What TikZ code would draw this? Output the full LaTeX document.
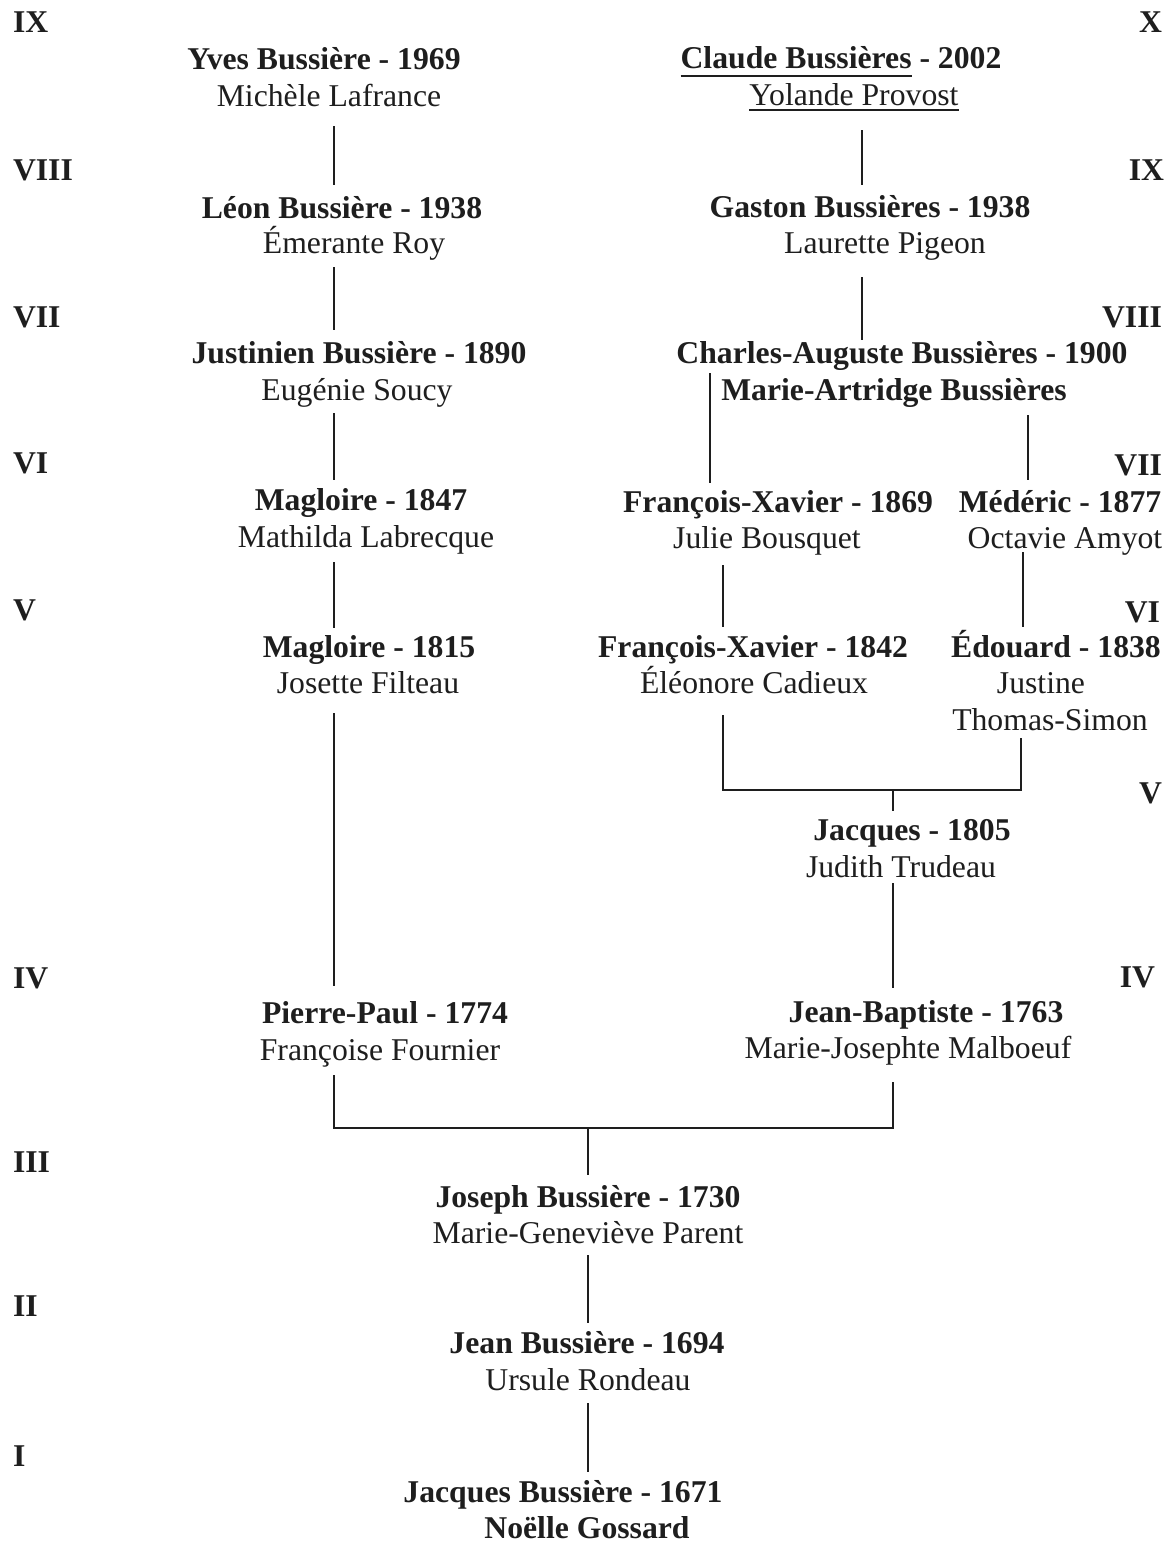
\documentclass[tikz,border=0pt]{standalone}
\usepackage{fontspec}
\setmainfont{Liberation Serif}
\usetikzlibrary{calc}
\definecolor{ink}{HTML}{1E1E1E}
% underline drawn at a chosen depth below the baseline
\newcommand{\ulinetext}[2]{\setbox0=\hbox{#2}\rlap{\rule[-#1]{\wd0}{1.8pt}}\box0\relax}
\begin{document}
\begin{tikzpicture}[x=1pt,y=-1pt,
  txt/.style={inner sep=0pt, outer sep=0pt, text height=22pt, text depth=8pt,
              anchor=base, text=ink, font=\fontsize{31.7pt}{37pt}\selectfont},
  nm/.style={txt, font=\fontsize{31.7pt}{37pt}\selectfont\bfseries},
  sp/.style={txt},
  genL/.style={nm, anchor=base west},
  genR/.style={nm, anchor=base east},
  link/.style={draw=ink, line width=1.8pt}]
\fill[white] (0,0) rectangle (1172,1543);
\useasboundingbox (0,0) rectangle (1172,1543);

% generation numbers, left margin
\node[genL] (gL9) at (13,32) {IX};
\node[genL] (gL8) at (13,180) {VIII};
\node[genL] (gL7) at (13,327) {VII};
\node[genL] (gL6) at (13,473) {VI};
\node[genL] (gL5) at (13,620) {V};
\node[genL] (gL4) at (13,988) {IV};
\node[genL] (gL3) at (13,1172) {III};
\node[genL] (gL2) at (13,1316) {II};
\node[genL] (gL1) at (13,1466) {I};

% generation numbers, right margin
\node[genR] (gR10) at (1162,32) {X};
\node[genR] (gR9) at (1164,180) {IX};
\node[genR] (gR8) at (1162,327) {VIII};
\node[genR] (gR7) at (1162,475) {VII};
\node[genR] (gR6) at (1160,622) {VI};
\node[genR] (gR5) at (1162,803) {V};
\node[genR] (gR4) at (1155,987) {IV};

% left branch
\node[nm] (yves) at (324,69) {Yves Bussière - 1969};
\node[sp] (yvesS) at (329,106) {Michèle Lafrance};
\node[nm] (leon) at (342,218) {Léon Bussière - 1938};
\node[sp] (leonS) at (354,253) {Émerante Roy};
\node[nm] (justinien) at (359,363) {Justinien Bussière - 1890};
\node[sp] (justinienS) at (357,400) {Eugénie Soucy};
\node[nm] (magA) at (361,510) {Magloire - 1847};
\node[sp] (magAS) at (366,547) {Mathilda Labrecque};
\node[nm] (magB) at (369,657) {Magloire - 1815};
\node[sp] (magBS) at (368,693) {Josette Filteau};
\node[nm] (pierre) at (385,1023) {Pierre-Paul - 1774};
\node[sp] (pierreS) at (380,1060) {Françoise Fournier};

% right branch
\node[nm] (claude) at (841,68) {\ulinetext{9pt}{Claude Bussières} - 2002};
\node[sp] (claudeS) at (854,105) {\ulinetext{6pt}{Yolande Provost}};
\node[nm] (gaston) at (870,217) {Gaston Bussières - 1938};
\node[sp] (gastonS) at (885,253) {Laurette Pigeon};
\node[nm] (charles) at (902,363) {Charles-Auguste Bussières - 1900};
\node[nm] (charlesS) at (894,400) {Marie-Artridge Bussières};
\node[nm] (fxA) at (778,512) {François-Xavier - 1869};
\node[sp] (fxAS) at (767,548) {Julie Bousquet};
\node[nm] (mederic) at (1060,512) {Médéric - 1877};
\node[sp] (medericS) at (1065,548) {Octavie Amyot};
\node[nm] (fxB) at (753,657) {François-Xavier - 1842};
\node[sp] (fxBS) at (754,693) {Éléonore Cadieux};
\node[nm] (edouard) at (1056,657) {Édouard - 1838};
\node[sp] (edouardS) at (1041,693) {Justine};
\node[sp] (edouardS2) at (1050,730) {Thomas-Simon};
\node[nm] (jacquesB) at (912,840) {Jacques - 1805};
\node[sp] (jacquesBS) at (901,877) {Judith Trudeau};
\node[nm] (jb) at (926,1022) {Jean-Baptiste - 1763};
\node[sp] (jbS) at (908,1058) {Marie-Josephte Malboeuf};

% common trunk
\node[nm] (joseph) at (588,1207) {Joseph Bussière - 1730};
\node[sp] (josephS) at (588,1243) {Marie-Geneviève Parent};
\node[nm] (jean) at (587,1353) {Jean Bussière - 1694};
\node[sp] (jeanS) at (588,1390) {Ursule Rondeau};
\node[nm] (jacquesA) at (563,1502) {Jacques Bussière - 1671};
\node[nm] (jacquesAS) at (587,1538) {Noëlle Gossard};

% connector columns and junctions
\coordinate (colA) at (334,0);
\coordinate (colC) at (862,0);
\coordinate (colCL) at (710,0);
\coordinate (colCR) at (1028,0);
\coordinate (colFX) at (723,0);
\coordinate (colM) at (1023,0);
\coordinate (colE) at (1021,0);
\coordinate (colJ) at (893,0);
\coordinate (jA) at (893,790);
\coordinate (jB) at (588,1128);

% left branch links
\draw[link, shorten <=12pt, shorten >=11pt] (yvesS.south -| colA) -- (leon.north -| colA);
\draw[link, shorten <=6pt, shorten >=11pt] (leonS.south -| colA) -- (justinien.north -| colA);
\draw[link, shorten <=5pt, shorten >=8pt] (justinienS.south -| colA) -- (magA.north -| colA);
\draw[link, shorten <=7pt, shorten >=7pt] (magAS.south -| colA) -- (magB.north -| colA);
\draw[link, shorten <=12pt, shorten >=15pt] (magBS.south -| colA) -- (pierre.north -| colA);

% right branch links
\draw[link, shorten <=17pt, shorten >=10pt] (claudeS.south -| colC) -- (gaston.north -| colC);
\draw[link, shorten <=16pt, shorten >=1pt] (gastonS.south -| colC) -- (charles.north -| colC);
\draw[link, shorten <=2pt, shorten >=7pt] (charles.south -| colCL) -- (fxA.north -| colCL);
\draw[link, shorten <=7pt, shorten >=10pt] (charlesS.south -| colCR) -- (mederic.north -| colCR);
\draw[link, shorten <=9pt, shorten >=8pt] (fxAS.south -| colFX) -- (fxB.north -| colFX);
\draw[link, shorten <=-4pt, shorten >=8pt] (medericS.south -| colM) -- (edouard.north -| colM);
\draw[link, shorten <=14pt] (fxBS.south -| colFX) |- (jA) -| (edouardS2.south -| colE);
\draw[link, shorten >=7pt] (jA) -- (jacquesB.north -| jA);
\draw[link, shorten <=-2pt, shorten >=12pt] (jacquesBS.south -| colJ) -- (jb.north -| colJ);

% joining the two branches
\draw[link, shorten <=7pt, shorten >=16pt] (pierreS.south -| colA) |- (jB) -| (jbS.south -| colJ);
\draw[link, shorten >=10pt] (jB) -- (joseph.north -| jB);

% trunk links
\draw[link, shorten <=4pt, shorten >=8pt] (josephS.south -| jB) -- (jean.north -| jB);
\draw[link, shorten <=5pt, shorten >=8pt] (jeanS.south -| jB) -- (jacquesA.north -| jB);
\end{tikzpicture}
\end{document}
